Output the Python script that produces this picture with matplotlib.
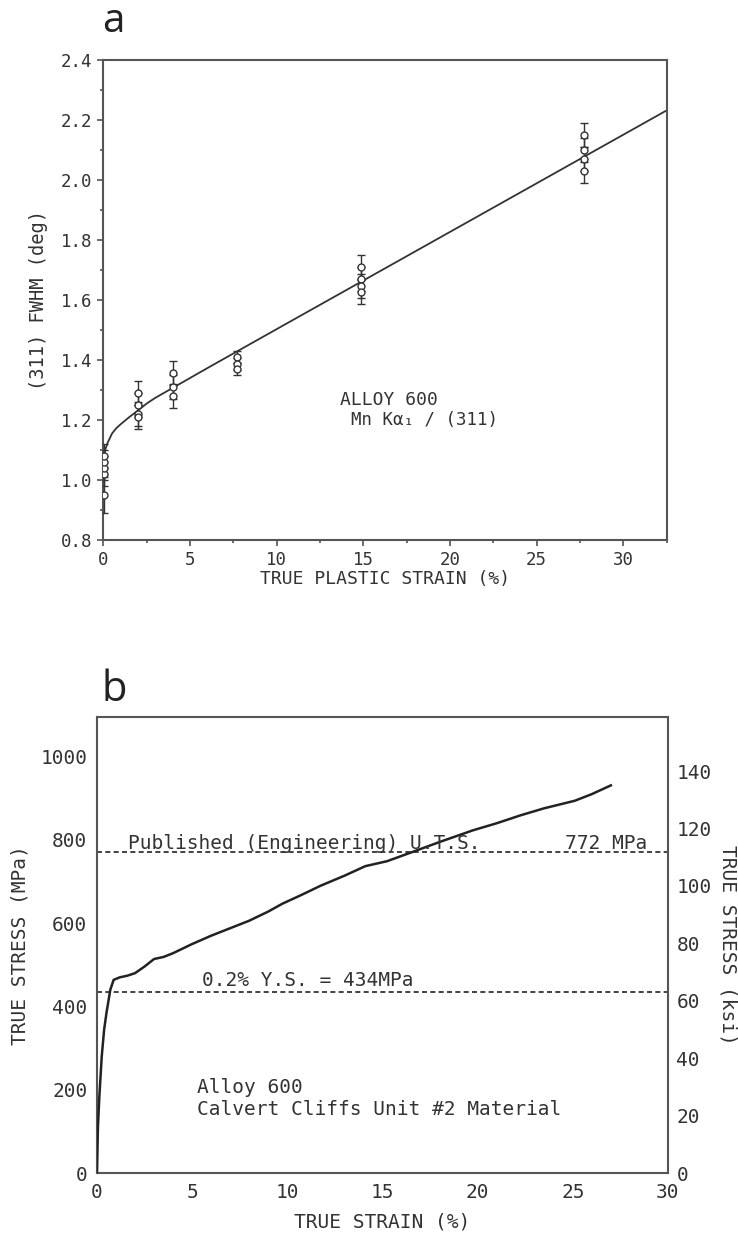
import matplotlib
matplotlib.use("Agg")
import matplotlib.pyplot as plt
from matplotlib.ticker import MultipleLocator, FormatStrFormatter

# ---------------- panel a: (311) peak width vs. true plastic strain ----------------
strain_levels = [0.05, 2.0, 4.0, 7.7, 14.85, 27.75]
fwhm_values = [
    [0.95, 1.02, 1.04, 1.06, 1.08],
    [1.29, 1.25, 1.22, 1.21],
    [1.355, 1.31, 1.28],
    [1.41, 1.385, 1.37],
    [1.71, 1.67, 1.645, 1.625],
    [2.15, 2.10, 2.07, 2.03],
]
fwhm_errors = [
    [0.06, 0.04, 0.04, 0.04, 0.04],
    [0.04, 0.04, 0.04, 0.04],
    [0.04, 0.04, 0.04],
    [0.02, 0.02, 0.02],
    [0.04, 0.04, 0.04, 0.04],
    [0.04, 0.04, 0.04, 0.04],
]
fit_strain = [0.0, 0.1, 0.25, 0.5, 0.75, 1.0, 1.5, 2.0, 2.5, 3.0, 4.0, 6.0, 10.0, 20.0, 32.5]
fit_fwhm = [1.07, 1.10, 1.125, 1.155, 1.173, 1.186, 1.210, 1.232, 1.255, 1.274,
            1.307, 1.373, 1.503, 1.827, 2.232]

# ---------------- panel b: true stress-strain curve ----------------
true_strain = [0.0, 0.05, 0.125, 0.25, 0.375, 0.5, 0.7, 0.875, 1.2, 1.6, 2.0, 2.5,
               3.0, 3.5, 4.0, 5.0, 6.0, 7.0, 8.0, 9.0, 9.75, 10.75, 11.75, 13.0,
               14.1, 15.25, 16.75, 18.0, 19.75, 21.0, 22.25, 23.5, 25.1, 26.0, 27.0]
true_stress = [0, 110, 184, 280, 344, 385, 440, 464, 470, 474, 480, 496,
               514, 519, 528, 550, 570, 588, 606, 628, 647, 668, 690, 714,
               737, 749, 774, 795, 823, 840, 859, 876, 894, 910, 931]
uts_mpa = 772
ys_mpa = 434
MPA_PER_KSI = 6.895
stress_top_mpa = 1095

mono = "DejaVu Sans Mono"
ink = "#333333"
spine_col = "#555555"

fig = plt.figure(figsize=(7.38, 12.34), dpi=100)

# ======== panel a ========
ax = fig.add_axes([0.1401, 0.5624, 0.7633, 0.3890])
ax.plot(fit_strain, fit_fwhm, color=ink, lw=1.3, zorder=2)
for xs, ys, es in zip(strain_levels, fwhm_values, fwhm_errors):
    ax.errorbar([xs] * len(ys), ys, yerr=es, fmt="o", ms=5, mfc="white",
                mec=ink, mew=1.0, ecolor=ink, elinewidth=1.0, capsize=3,
                capthick=1.0, zorder=3)
ax.set_xlim(0, 32.5)
ax.set_ylim(0.8, 2.4)
ax.xaxis.set_major_locator(MultipleLocator(5))
ax.xaxis.set_minor_locator(MultipleLocator(2.5))
ax.yaxis.set_major_locator(MultipleLocator(0.2))
ax.yaxis.set_minor_locator(MultipleLocator(0.1))
ax.yaxis.set_major_formatter(FormatStrFormatter("%.1f"))
ax.tick_params(which="both", direction="out", color=spine_col, width=1.2,
               top=False, right=False, labelsize=12.5, labelcolor=ink, pad=4)
ax.tick_params(which="major", length=4)
ax.tick_params(which="minor", length=2.5)
for lab in ax.get_xticklabels() + ax.get_yticklabels():
    lab.set_fontfamily(mono)
for s in ax.spines.values():
    s.set_color(spine_col)
    s.set_linewidth(1.5)
ax.set_xlabel("TRUE PLASTIC STRAIN (%)", fontfamily=mono, fontsize=13,
              color=ink, labelpad=1)
ax.set_ylabel("(311) FWHM (deg)", fontfamily=mono, fontsize=13.5,
              color=ink, labelpad=9)
ax.text(13.65, 1.267, "ALLOY 600", fontfamily=mono, fontsize=13, color=ink,
        va="center")
ax.text(14.3, 1.20, "Mn K\u03b1\u2081 / (311)", fontfamily=mono, fontsize=12.5,
        color=ink, va="center")
fig.text(0.153, 0.982, "a", fontsize=29, color="#222222", ha="center",
         va="center", fontfamily="Open Sans")

# ======== panel b ========
bx = fig.add_axes([0.1314, 0.0494, 0.7737, 0.3695])
bx.plot(true_strain, true_stress, color="#222222", lw=1.8, zorder=3)
bx.axhline(uts_mpa, color="#222222", lw=1.2, ls=(0, (3, 2)), zorder=2)
bx.axhline(ys_mpa, color="#222222", lw=1.2, ls=(0, (3, 2)), zorder=2)
bx.set_xlim(0, 30)
bx.set_ylim(0, stress_top_mpa)
bx.xaxis.set_major_locator(MultipleLocator(5))
bx.yaxis.set_major_locator(MultipleLocator(200))
bx.tick_params(direction="out", length=0, labelsize=14, labelcolor=ink, pad=7)
for lab in bx.get_xticklabels() + bx.get_yticklabels():
    lab.set_fontfamily(mono)
for s in bx.spines.values():
    s.set_color(spine_col)
    s.set_linewidth(1.5)
bx.set_xlabel("TRUE STRAIN (%)", fontfamily=mono, fontsize=14, color=ink,
              labelpad=8)
bx.set_ylabel("TRUE STRESS (MPa)", fontfamily=mono, fontsize=14, color=ink,
              labelpad=8)

# right-hand scale in ksi, sharing the strain axis
rx = bx.twinx()
rx.set_ylim(0, stress_top_mpa / MPA_PER_KSI)
rx.yaxis.set_major_locator(MultipleLocator(20))
rx.tick_params(length=0, labelsize=14, labelcolor=ink, pad=6)
for lab in rx.get_yticklabels():
    lab.set_fontfamily(mono)
for s in rx.spines.values():
    s.set_visible(False)
rx.set_ylabel("TRUE STRESS (ksi)", fontfamily=mono, fontsize=14, color=ink,
              rotation=270, labelpad=19)

bx.text(1.65, uts_mpa + 6, "Published (Engineering) U.T.S.",
        fontfamily=mono, fontsize=14, color=ink)
bx.text(28.9, uts_mpa + 6, f"{uts_mpa} MPa", fontfamily=mono, fontsize=14,
        color=ink, ha="right")
bx.text(5.5, ys_mpa + 14, f"0.2% Y.S. = {ys_mpa}MPa", fontfamily=mono,
        fontsize=14, color=ink)
bx.text(5.25, 140, "Alloy 600\nCalvert Cliffs Unit #2 Material",
        fontfamily=mono, fontsize=14, color=ink, linespacing=1.2)
fig.text(0.1545, 0.441, "b", fontsize=30, color="#222222", ha="center",
         va="center", fontfamily="Open Sans")

fig.savefig("out.png", dpi=100, facecolor="white")
